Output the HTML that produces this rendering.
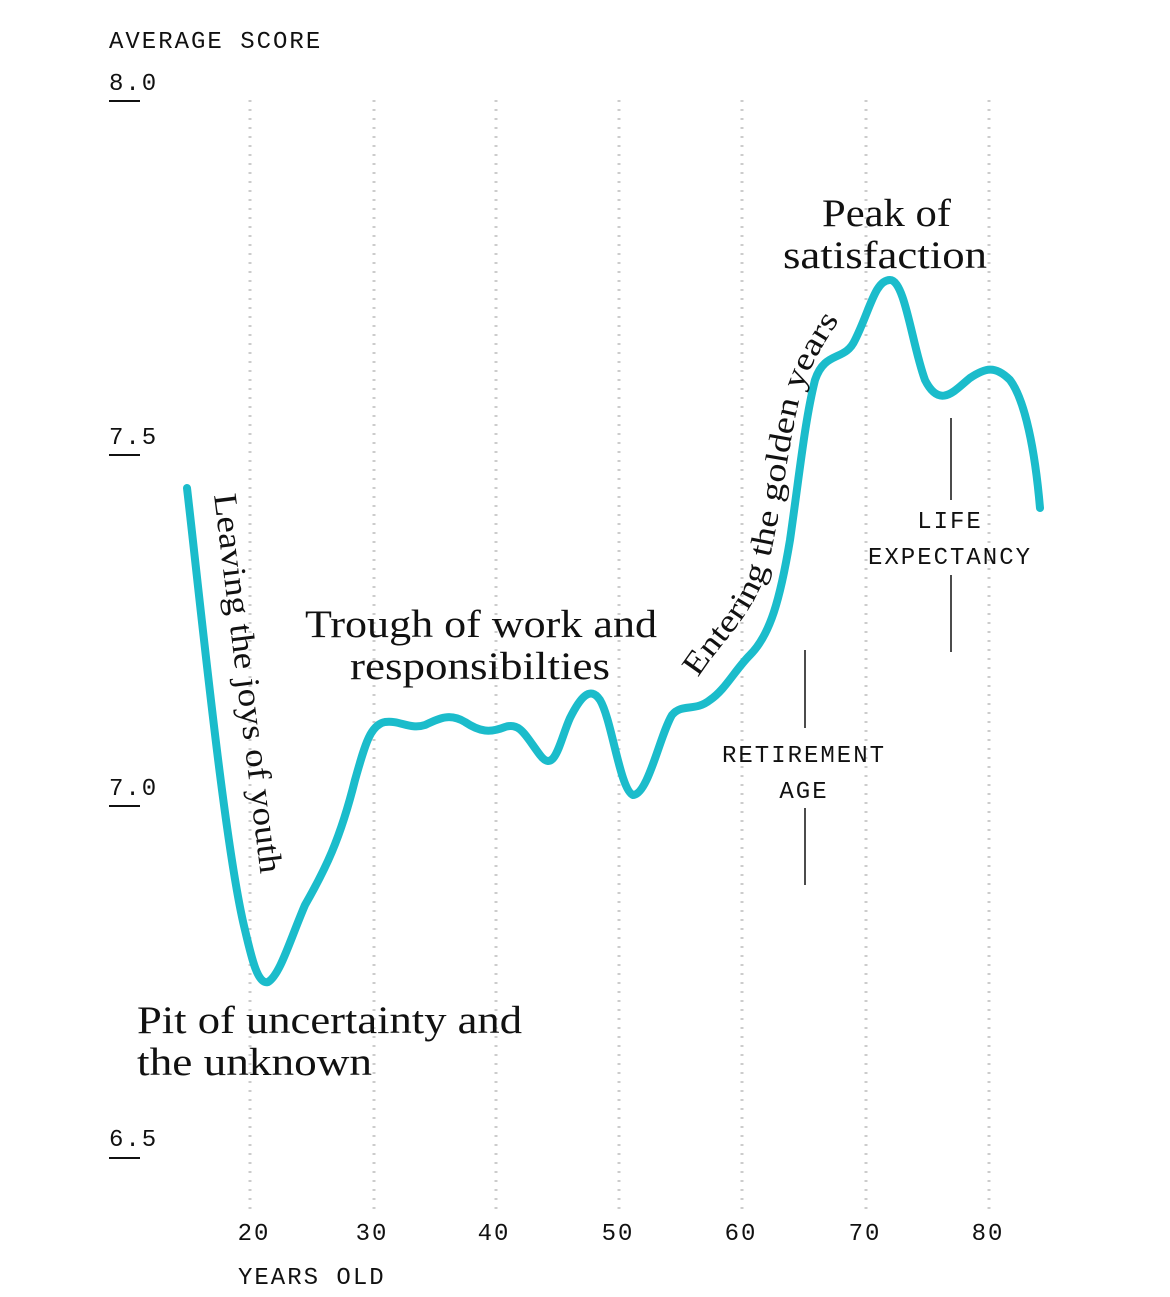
<!DOCTYPE html>
<html><head><meta charset="utf-8"><style>
html,body{margin:0;padding:0;background:#fff;}
svg{display:block}
.m{font-family:"Liberation Mono","DejaVu Sans Mono",monospace;font-size:24px;letter-spacing:2px;fill:#111;}
.s{font-family:"Liberation Serif","DejaVu Serif",serif;font-size:39px;fill:#111;}
.g{stroke:#ccc;stroke-width:3;stroke-dasharray:2 7;}
</style></head><body>
<svg width="1170" height="1297" viewBox="0 0 1170 1297" xmlns="http://www.w3.org/2000/svg">
<defs>
<path id="ep" d="M698,678 C722,640 755,615 768,565 C780,520 790,430 802,390 C812,360 832,330 856,296" fill="none"/>
</defs>
<g class="g">
<line x1="250" y1="100" x2="250" y2="1212"/>
<line x1="374" y1="100" x2="374" y2="1212"/>
<line x1="496" y1="100" x2="496" y2="1212"/>
<line x1="619" y1="100" x2="619" y2="1212"/>
<line x1="742" y1="100" x2="742" y2="1212"/>
<line x1="866" y1="100" x2="866" y2="1212"/>
<line x1="989" y1="100" x2="989" y2="1212"/>
</g>
<text class="m" x="109" y="48">AVERAGE SCORE</text>
<text class="m" x="109" y="90">8.0</text>
<text class="m" x="109" y="444">7.5</text>
<text class="m" x="109" y="795">7.0</text>
<text class="m" x="109" y="1146">6.5</text>
<g stroke="#111" stroke-width="2">
<line x1="109" y1="101" x2="140" y2="101"/>
<line x1="109" y1="455" x2="140" y2="455"/>
<line x1="109" y1="806" x2="140" y2="806"/>
<line x1="109" y1="1158" x2="140" y2="1158"/>
</g>
<g class="m" text-anchor="middle">
<text x="254" y="1240">20</text><text x="372" y="1240">30</text><text x="494" y="1240">40</text>
<text x="618" y="1240">50</text><text x="741" y="1240">60</text><text x="865" y="1240">70</text><text x="988" y="1240">80</text>
</g>
<text class="m" x="238" y="1284">YEARS OLD</text>
<path d="M187,488 C200,600 225,850 245,930 C252,960 258,985 268,982 C280,975 290,940 305,905 C325,870 340,840 355,780 C365,745 370,725 385,722 C400,720 410,730 425,725 C440,718 450,713 465,722 C480,732 490,733 505,727 C520,722 525,735 540,755 C555,775 560,740 570,718 C580,698 590,685 600,700 C612,720 620,790 633,795 C648,795 660,735 672,715 C682,703 695,712 710,700 C725,690 735,670 750,655 C770,635 780,600 790,540 C800,470 805,420 815,380 C825,350 845,362 855,340 C870,310 875,280 890,280 C905,280 912,345 925,380 C940,410 955,390 970,378 C985,368 995,365 1010,380 C1025,400 1035,450 1040,508" fill="none" stroke="#1bbccb" stroke-width="8" stroke-linecap="round" stroke-linejoin="round"/>
<text class="s" x="305" y="637" textLength="352" lengthAdjust="spacingAndGlyphs">Trough of work and</text>
<text class="s" x="350" y="679" textLength="260" lengthAdjust="spacingAndGlyphs">responsibilties</text>
<text class="s" x="137" y="1033" textLength="385" lengthAdjust="spacingAndGlyphs">Pit of uncertainty and</text>
<text class="s" x="137" y="1075" textLength="235" lengthAdjust="spacingAndGlyphs">the unknown</text>
<text class="s" x="822" y="226" textLength="129" lengthAdjust="spacingAndGlyphs">Peak of</text>
<text class="s" x="783" y="268" textLength="204" lengthAdjust="spacingAndGlyphs">satisfaction</text>
<text class="s" style="font-size:33px" transform="translate(214,495) rotate(83)" textLength="382" lengthAdjust="spacingAndGlyphs">Leaving the joys of youth</text>
<text class="s" style="font-size:32px"><textPath href="#ep" textLength="392" lengthAdjust="spacingAndGlyphs">Entering the golden years</textPath></text>
<g stroke="#111" stroke-width="1.5">
<line x1="805" y1="650" x2="805" y2="728"/><line x1="805" y1="808" x2="805" y2="885"/>
<line x1="951" y1="418" x2="951" y2="500"/><line x1="951" y1="575" x2="951" y2="652"/>
</g>
<g class="m" text-anchor="middle">
<text x="804" y="762">RETIREMENT</text><text x="804" y="798">AGE</text>
<text x="950" y="528">LIFE</text><text x="950" y="564">EXPECTANCY</text>
</g>
</svg>
</body></html>
